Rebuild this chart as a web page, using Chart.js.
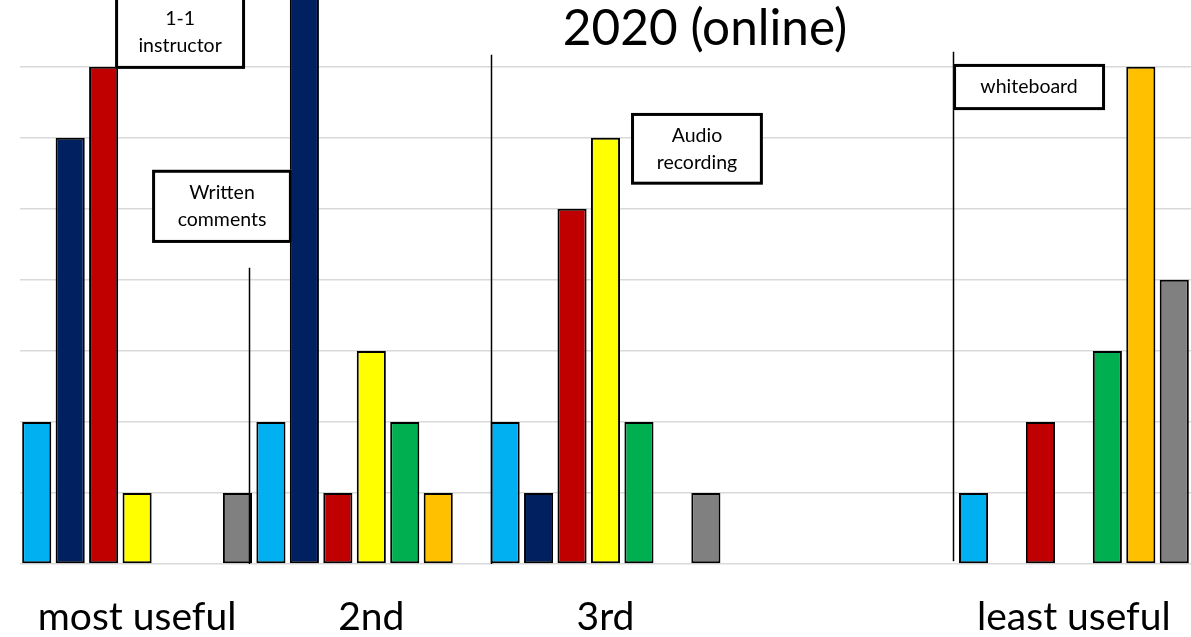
<!DOCTYPE html>
<html>
<head>
<meta charset="utf-8">
<title>2020 (online)</title>
<script src="https://cdn.jsdelivr.net/npm/chart.js@4/dist/chart.umd.min.js"></script>
<style>
  html, body { margin: 0; padding: 0; background: #fff; overflow: hidden; }
  #wrap { width: 1191px; height: 637px; overflow: hidden; }
</style>
</head>
<body>
<div id="wrap"><canvas id="chart" width="1191" height="670"></canvas></div>
<script>
// Ranking of feedback methods, 2020 (online) cohort

var categories = ['most useful', '2nd', '3rd', '', 'least useful'];

var seriesLightBlue = [2, 2, 2, 0, 1];
var seriesNavy      = [6, 8, 1, 0, 0];
var seriesRed       = [7, 1, 5, 0, 2];
var seriesYellow    = [1, 3, 6, 0, 0];
var seriesGreen     = [0, 2, 2, 0, 3];
var seriesOrange    = [0, 1, 0, 0, 7];
var seriesGray      = [1, 0, 1, 0, 4];

var yTicks = [0, 1, 2, 3, 4, 5, 6, 7];

var FONT = 'Lato, "Open Sans", sans-serif';

// callout boxes and divider lines, in scale units (x = category index, y = value)
var callouts = [
    { lines: ['1-1', 'instructor'],     x0: -0.094, x1: 0.461, y0: 6.97, y1: 8.0 },
    { lines: ['Written', 'comments'],   x0: 0.064,  x1: 0.661, y0: 4.52, y1: 5.55 },
    { lines: ['Audio', 'recording'],    x0: 2.109,  x1: 2.672, y0: 5.34, y1: 6.35 },
    { lines: ['whiteboard'],            x0: 3.484,  x1: 4.133, y0: 6.39, y1: 7.04 }
];
var dividers = [
    { x: 0.478, y0: 0, y1: 4.17 },
    { x: 1.511, y0: 0, y1: 7.17 },
    { x: 3.484, y0: 0.04, y1: 7.21 }
];

function bars(label, data, color) {
    return {
        label: label,
        data: data,
        backgroundColor: color,
        borderColor: '#000000',
        borderWidth: 2,
        borderSkipped: false,
        barPercentage: 0.87,
        categoryPercentage: 1.0
    };
}

// ── overlay: title, dividers, callout boxes ───────────────────────────────
var overlay = {
    id: 'overlay',
    afterDatasetsDraw: function (chart) {
        var ctx = chart.ctx;
        var xs = chart.scales.x, ys = chart.scales.y;
        ctx.save();

        ctx.strokeStyle = '#000';
        ctx.lineWidth = 1.5;
        dividers.forEach(function (d) {
            var x = Math.round(xs.getPixelForValue(d.x)) + 0.5;
            ctx.beginPath();
            ctx.moveTo(x, ys.getPixelForValue(d.y0));
            ctx.lineTo(x, ys.getPixelForValue(d.y1));
            ctx.stroke();
        });

        callouts.forEach(function (c) {
            var l = xs.getPixelForValue(c.x0), r = xs.getPixelForValue(c.x1);
            var t = ys.getPixelForValue(c.y1), b = ys.getPixelForValue(c.y0);
            ctx.fillStyle = '#fff';
            ctx.fillRect(l, t, r - l, b - t);
            ctx.lineWidth = 3;
            ctx.strokeStyle = '#000';
            ctx.strokeRect(l + 1.5, t + 1.5, r - l - 3, b - t - 3);

            ctx.fillStyle = '#000';
            ctx.font = '19.5px ' + FONT;
            ctx.textAlign = 'center';
            ctx.textBaseline = 'middle';
            var lh = 27;
            var cy = (t + b) / 2 - (c.lines.length - 1) * lh / 2;
            c.lines.forEach(function (s, i) {
                ctx.fillText(s, (l + r) / 2, cy + i * lh);
            });
        });

        ctx.fillStyle = '#000';
        ctx.font = '49.5px ' + FONT;
        ctx.textAlign = 'center';
        ctx.textBaseline = 'middle';
        ctx.fillText('2020 (online)', xs.getPixelForValue(2.425), ys.getPixelForValue(7.53));

        ctx.restore();
    }
};

new Chart(document.getElementById('chart'), {
    type: 'bar',
    data: {
        labels: categories,
        datasets: [
            bars('Series 1', seriesLightBlue, '#00B0F0'),
            bars('Series 2', seriesNavy,      '#002060'),
            bars('Series 3', seriesRed,       '#C00000'),
            bars('Series 4', seriesYellow,    '#FFFF00'),
            bars('Series 5', seriesGreen,     '#00B050'),
            bars('Series 6', seriesOrange,    '#FFC000'),
            bars('Series 7', seriesGray,      '#808080')
        ]
    },
    options: {
        responsive: false,
        animation: false,
        layout: { padding: { left: 20, right: 0, top: 0, bottom: 0 } },
        plugins: {
            legend: { display: false },
            tooltip: { enabled: false }
        },
        scales: {
            x: {
                grid: { display: false, drawTicks: false },
                border: { display: false },
                ticks: {
                    color: '#000',
                    padding: 29.6,
                    maxRotation: 0,
                    autoSkip: false,
                    font: { family: FONT, size: 39 }
                },
                // labels sit well inside their slots, no edge padding needed
                afterFit: function (axis) {
                    axis.paddingLeft = 0;
                    axis.paddingRight = 0;
                }
            },
            y: {
                min: 0,
                max: 7.94,
                border: { display: false },
                grid: { color: '#d9d9d9', lineWidth: 1.5, drawTicks: false },
                ticks: { display: false },
                afterBuildTicks: function (axis) {
                    axis.ticks = yTicks.map(function (v) { return { value: v }; });
                }
            }
        }
    },
    plugins: [overlay]
});
</script>
</body>
</html>
